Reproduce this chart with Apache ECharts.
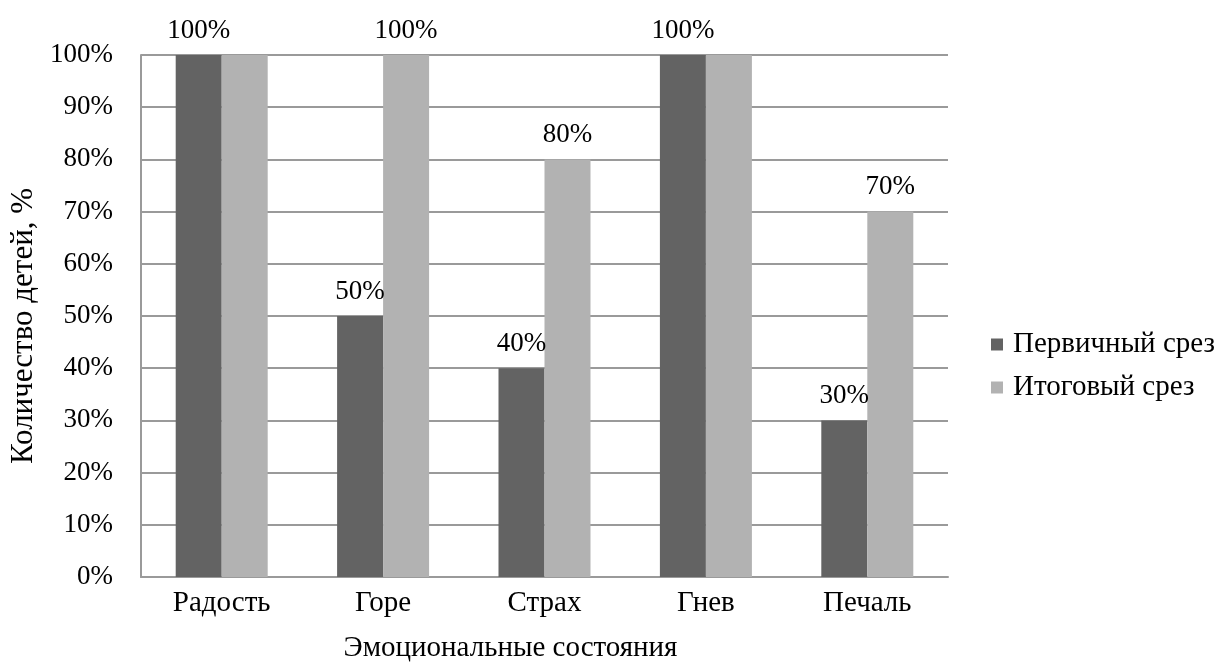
<!DOCTYPE html>
<html>
<head>
<meta charset="utf-8">
<title>Эмоциональные состояния</title>
<script src="https://cdn.jsdelivr.net/npm/echarts@6/dist/echarts.min.js"></script>
<style>
  html, body { margin: 0; padding: 0; background: #fff; }
  #chart { width: 1218px; height: 668px; }
</style>
</head>
<body>
<div id="chart"></div>
<script>
// Emotional states and share of children (%) at each assessment
const categories = ['Радость', 'Горе', 'Страх', 'Гнев', 'Печаль'];
const seriesNames = ['Первичный срез', 'Итоговый срез'];
const initialValues = [100, 50, 40, 100, 30];
const finalValues = [100, 100, 80, 100, 70];
const yTicks = [0, 10, 20, 30, 40, 50, 60, 70, 80, 90, 100];

const FONT = '"Liberation Serif", "Times New Roman", serif';
const gridColor = '#9a9a9a';
const NUM_SIZE = 27;
const TEXT_SIZE = 29;

const chart = echarts.init(document.getElementById('chart'), null, { renderer: 'canvas' });

chart.setOption({
  animation: false,
  textStyle: { fontFamily: FONT, color: '#000' },
  grid: { left: 141, right: 270, top: 55, bottom: 90, containLabel: false },
  legend: {
    orient: 'vertical',
    left: 986,
    top: 325,
    itemWidth: 22,
    itemHeight: 12,
    itemGap: 14,
    icon: 'path://M0,0H12V12H0Z',
    symbolKeepAspect: true,
    textStyle: { fontFamily: FONT, fontSize: TEXT_SIZE, color: '#000' },
    data: seriesNames
  },
  xAxis: {
    type: 'category',
    data: categories,
    name: 'Эмоциональные состояния',
    nameLocation: 'middle',
    nameGap: 57,
    nameTextStyle: {
      fontFamily: FONT, fontSize: TEXT_SIZE, color: '#000',
      padding: [0, 68, 0, 0]
    },
    axisLine: { lineStyle: { color: gridColor, width: 2 } },
    axisTick: { show: false },
    axisLabel: { fontFamily: FONT, fontSize: TEXT_SIZE, color: '#000', margin: 12 }
  },
  yAxis: {
    type: 'value',
    min: yTicks[0],
    max: yTicks[yTicks.length - 1],
    interval: yTicks[1] - yTicks[0],
    name: 'Количество детей, %',
    nameLocation: 'middle',
    nameGap: 93,
    nameTextStyle: {
      fontFamily: FONT, fontSize: 31, color: '#000',
      padding: [0, 20, 0, 0]
    },
    axisLine: { show: true, lineStyle: { color: gridColor, width: 2 } },
    axisTick: { show: false },
    axisLabel: {
      fontFamily: FONT, fontSize: NUM_SIZE, color: '#000', margin: 28,
      formatter: v => v + '%'
    },
    splitLine: { lineStyle: { color: gridColor, width: 2 } }
  },
  series: [
    {
      name: seriesNames[0],
      type: 'bar',
      data: initialValues,
      barGap: '0%',
      barCategoryGap: '43%',
      itemStyle: { color: '#636363' },
      label: {
        show: true,
        position: 'top',
        distance: 11,
        fontFamily: FONT,
        fontSize: NUM_SIZE,
        color: '#000',
        formatter: p => p.value + '%'
      }
    },
    {
      name: seriesNames[1],
      type: 'bar',
      data: finalValues,
      itemStyle: { color: '#b2b2b2' },
      label: {
        show: true,
        position: 'top',
        distance: 11,
        fontFamily: FONT,
        fontSize: NUM_SIZE,
        color: '#000',
        // equal pairs share a single label above the first bar
        formatter: p => (p.value === initialValues[p.dataIndex] ? '' : p.value + '%')
      }
    }
  ]
});
</script>
</body>
</html>
